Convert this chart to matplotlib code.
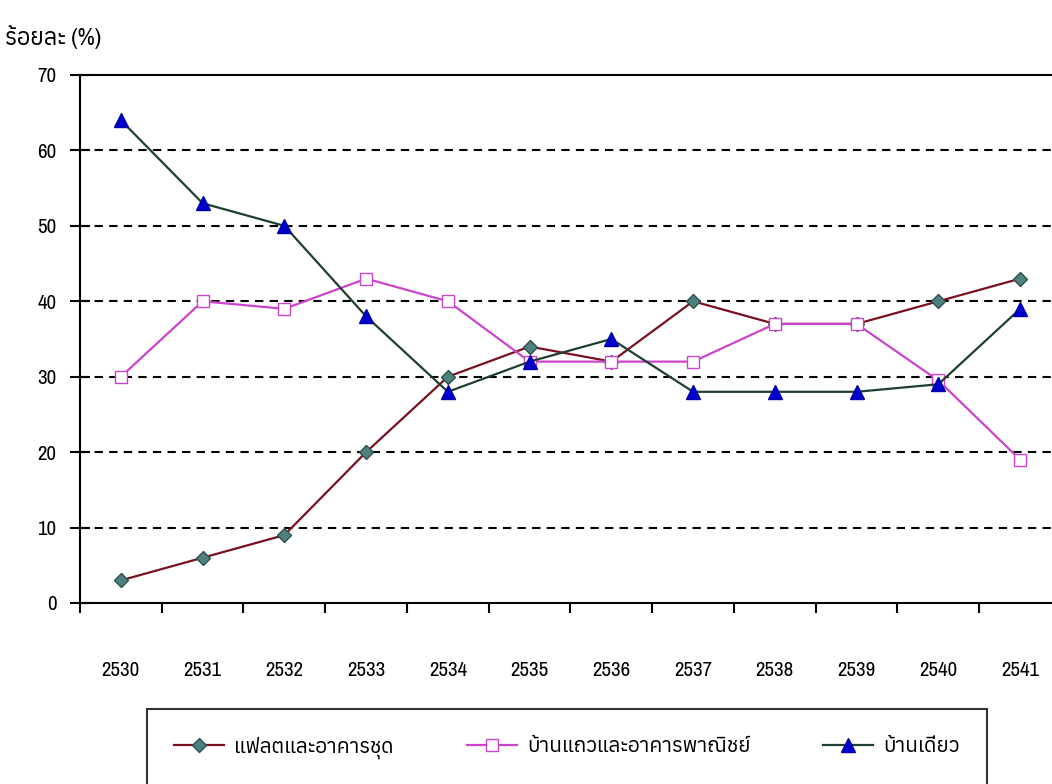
import matplotlib
matplotlib.use("Agg")
import matplotlib.pyplot as plt
from matplotlib.ticker import FixedLocator, NullFormatter

# Thai needs a family with Thai glyphs; digits come from the narrow family first
plt.rcParams['font.family'] = ['Archivo Narrow', 'Anuphan', 'Noto Sans', 'DejaVu Sans']

# data
years = ["2530", "2531", "2532", "2533", "2534", "2535",
         "2536", "2537", "2538", "2539", "2540", "2541"]
flats = [3, 6, 9, 20, 30, 34, 32, 40, 37, 37, 40, 43]
row_houses = [30, 40, 39, 43, 40, 32, 32, 32, 37, 37, 29.5, 19]
detached = [64, 53, 50, 38, 28, 32, 35, 28, 28, 28, 29, 39]

labels = ["แฟลตและอาคารชุด", "บ้านแถวและอาคารพาณิชย์", "บ้านเดี่ยว"]
y_label = "ร้อยละ (%)"

fig = plt.figure(figsize=(10.52, 7.84), dpi=100)
ax = fig.add_axes([80 / 1052, 1 - 603 / 784, 1 - 80 / 1052, (603 - 75) / 784])

x = list(range(len(years)))
l1, = ax.plot(x, flats, color="#7a1020", lw=1.6, marker="D", ms=7.5,
              mfc="#4f8080", mec="#2f5050")
l2, = ax.plot(x, row_houses, color="#cc44cc", lw=1.6, marker="s", ms=9,
              mfc="white", mec="#cc44cc")
l3, = ax.plot(x, detached, color="#1f3f2f", lw=1.6, marker="^", ms=10,
              mfc="#0000cc", mec="#0000aa")

ax.set_xlim(-0.5, 11.39)
ax.set_ylim(0, 70)
ax.set_yticks(range(0, 71, 10))
ax.set_xticks(x)
ax.set_xticklabels(years)
ax.xaxis.set_minor_locator(FixedLocator([i + 0.5 for i in range(-1, 11)]))
ax.xaxis.set_minor_formatter(NullFormatter())
ax.tick_params(axis="x", which="major", length=0, pad=42, labelsize=15)
ax.tick_params(axis="x", which="minor", length=7, width=1.5, direction="out")
ax.tick_params(axis="y", length=14, width=1.5, direction="inout", pad=10, labelsize=15)

for v in range(10, 70, 10):
    ax.axhline(v, color="black", lw=1.5, ls=(0, (4, 3)), zorder=0)

for s in ["left", "bottom", "top"]:
    ax.spines[s].set_linewidth(1.5)
ax.spines["right"].set_visible(False)

fig.text(5 / 1052, 1 - 37 / 784, y_label, fontsize=17, fontweight="bold",
         va="center", ha="left")

leg = fig.legend([l1, l2, l3], labels, ncol=3, loc="center", mode="expand",
                 bbox_to_anchor=(147 / 1052, 1 - 790 / 784, 840 / 1052, 85 / 784),
                 fontsize=15, frameon=True, fancybox=False, edgecolor="black",
                 handlelength=2.4, handletextpad=0.5, borderpad=1.3,
                 borderaxespad=0)
leg.get_frame().set_linewidth(1.5)

fig.savefig("out.png", dpi=100)
